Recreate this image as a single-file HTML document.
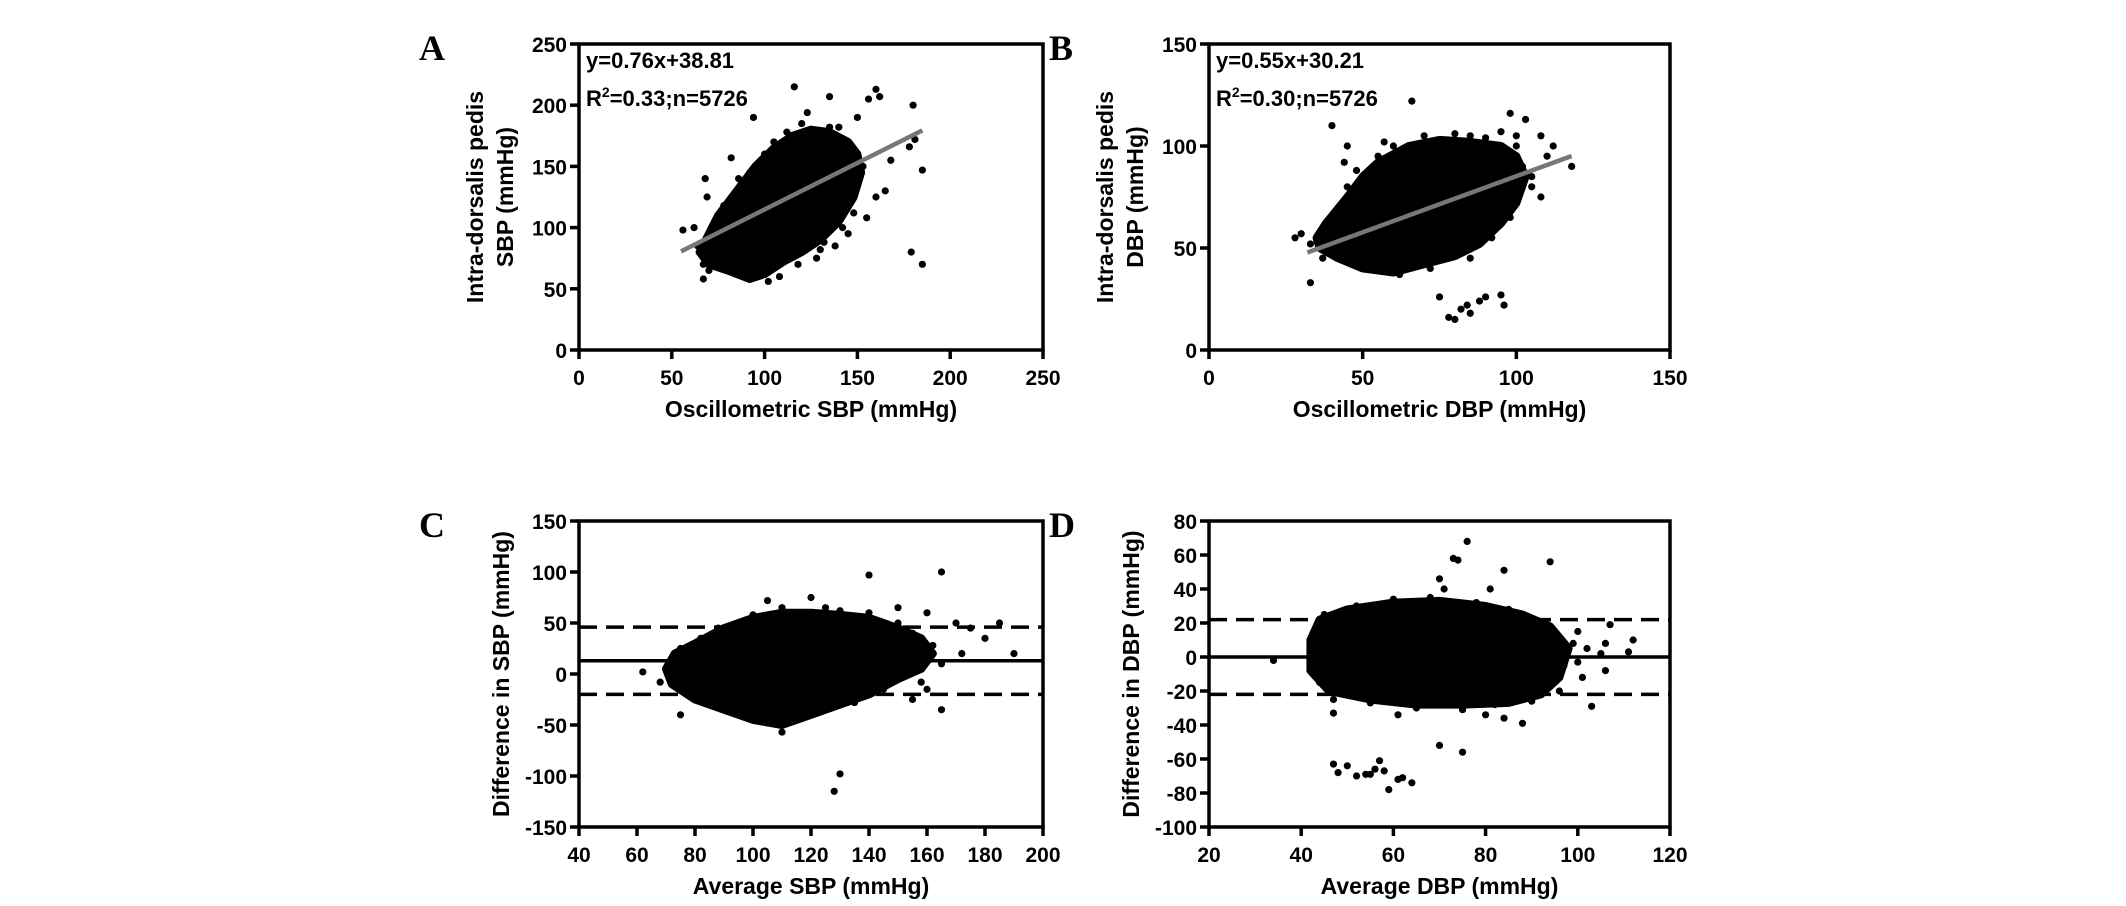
<!DOCTYPE html>
<html><head><meta charset="utf-8"><style>
html,body{margin:0;padding:0;background:#fff;}
svg{display:block;}
text{font-family:"Liberation Sans",Arial,sans-serif;font-weight:bold;fill:#000;}
.pl{font-family:"Liberation Serif","Times New Roman",serif;font-size:36px;font-weight:bold;}
</style></head><body>
<svg id="fig" width="2126" height="906" viewBox="0 0 2126 906" xmlns="http://www.w3.org/2000/svg"></svg>
<script>
// Panel A data
const aXTicks=[0,50,100,150,200,250];
const aYTicks=[0,50,100,150,200,250];
const aCloudX=[65,70,75,85,95,105,115,125,135,145,150,152,148,140,130,120,110,100,92,80,70];
const aCloudY=[80,95,110,130,150,165,175,180,178,170,160,145,125,105,90,80,72,62,58,65,70];
const aPtsX=[56,67,67,68,69,70,82,94,102,116,123,135,156,160,162,168,160,155,180,179,181,185,185,165,145,130,178,72,88,140,150,72,75,78,85,88,92,95,98,105,108,112,118,125,128,135,138,142,145,148,150,153,86,100,120,132,140,62,64];
const aPtsY=[98,58,70,140,125,65,157,190,56,215,194,207,205,213,207,155,125,108,200,80,172,147,70,130,95,82,166,100,63,182,190,100,85,118,75,135,145,68,155,170,60,178,70,176,75,182,85,100,165,112,140,150,140,160,185,88,170,100,85];
const aSlope=0.76, aIntercept=38.81, aLineX=[55,185];
// Panel B data
const bXTicks=[0,50,100,150];
const bYTicks=[0,50,100,150];
const bCloudX=[35,38,45,50,55,65,75,85,95,100,103,100,95,88,80,70,60,50,42,36];
const bCloudY=[55,62,75,85,92,100,103,102,100,95,85,72,62,52,46,42,38,40,45,50];
const bPtsX=[30,33,40,45,66,85,98,103,108,112,118,110,78,80,82,84,85,88,90,95,96,75,100,105,28,33,37,40,45,48,52,55,60,62,70,72,80,85,90,92,98,100,102,105,108,44,57,95];
const bPtsY=[57,33,110,100,122,105,116,113,105,100,90,95,16,15,20,22,18,24,26,27,22,26,105,85,55,52,45,65,80,88,40,95,100,37,105,40,106,45,104,55,65,100,90,80,75,92,102,107];
const bSlope=0.55, bIntercept=30.21, bLineX=[32,118];
// Panel C data
const cXTicks=[40,60,80,100,120,140,160,180,200];
const cYTicks=[-150,-100,-50,0,50,100,150];
const cCloudX=[70,73,80,90,100,110,120,130,140,150,158,162,158,150,140,130,120,110,100,90,80,72];
const cCloudY=[5,20,30,45,55,60,60,58,55,45,35,20,5,-5,-20,-30,-40,-50,-45,-35,-25,-10];
const cPtsX=[62,68,75,105,120,140,165,160,170,175,185,190,180,165,128,130,110,155,150,172,72,75,78,82,85,88,95,100,105,110,115,125,130,135,140,145,150,155,158,162,165,160];
const cPtsY=[2,-8,-40,72,75,97,100,60,50,45,50,20,35,-35,-115,-98,-57,-25,65,20,15,25,-20,35,-30,45,-40,58,-48,65,-45,65,62,-28,60,-15,50,40,-8,28,10,-15];
const cMean=[13], cLimits=[46,-20];
// Panel D data
const dXTicks=[20,40,60,80,100,120];
const dYTicks=[-100,-80,-60,-40,-20,0,20,40,60,80];
const dCloudX=[42,44,50,60,70,80,88,94,98,96,92,85,75,65,55,46,42];
const dCloudY=[10,22,28,32,33,30,25,18,5,-12,-22,-27,-28,-28,-25,-20,-8];
const dPtsX=[34,47,61,76,73,74,94,84,70,71,81,100,102,105,106,107,112,111,106,101,103,88,70,75,47,48,50,52,55,56,57,58,59,61,62,64,54,80,84,43,45,44,47,52,55,60,65,68,75,78,82,85,90,93,96,99,97,100];
const dPtsY=[-2,-33,-34,68,58,57,56,51,46,40,40,15,5,2,8,19,10,3,-8,-12,-29,-39,-52,-56,-63,-68,-64,-70,-69,-66,-61,-67,-78,-72,-71,-74,-69,-34,-36,15,25,-15,-25,30,-27,34,-30,35,-31,32,-28,28,-26,20,-20,8,-5,-3];
const dMean=[0], dLimits=[22,-22];

const NS="http://www.w3.org/2000/svg";
const svg=document.getElementById('fig');
function mk(tag,attrs,parent){const e=document.createElementNS(NS,tag);for(const k in attrs)e.setAttribute(k,attrs[k]);(parent||svg).appendChild(e);return e;}

function panel(o){
  const g=mk('g',{});
  
  
  const sx=v=>o.L+(v-o.xmin)/(o.xmax-o.xmin)*(o.R-o.L);
  const sy=v=>o.B-(v-o.ymin)/(o.ymax-o.ymin)*(o.B-o.T);
  let d='';
  for(let i=0;i<o.cx.length;i++)d+=(i?'L':'M')+sx(o.cx[i])+' '+sy(o.cy[i]);
  const cl=mk('path',{d:d+'Z',fill:'#000',stroke:'#000','stroke-width':8,'stroke-linejoin':'round'},g);
  
  
  for(let i=0;i<o.px.length;i++){
    const c=mk('circle',{cx:sx(o.px[i]),cy:sy(o.py[i]),r:3.6,fill:'#000'},g);
    
    
  }
  if(o.slope!==undefined){
    const ln=mk('line',{x1:sx(o.lx[0]),y1:sy(o.slope*o.lx[0]+o.icpt),x2:sx(o.lx[1]),y2:sy(o.slope*o.lx[1]+o.icpt),stroke:'#777','stroke-width':4.5},g);
    
    
  }
  if(o.mean){
    const m=mk('line',{x1:o.L,x2:o.R,y1:sy(o.mean[0]),y2:sy(o.mean[0]),stroke:'#000','stroke-width':3.5},g);
    
    
    o.lim.forEach(v=>{
      const l=mk('line',{x1:o.L,x2:o.R,y1:sy(v),y2:sy(v),stroke:'#000','stroke-width':3.5,'stroke-dasharray':'18 9'},g);
      
      
    });
  }
  const bx=mk('rect',{x:o.L,y:o.T,width:o.R-o.L,height:o.B-o.T,fill:'none',stroke:'#000','stroke-width':3.5},g);
  
  
  o.xt.forEach(v=>{
    mk('line',{x1:sx(v),x2:sx(v),y1:o.B,y2:o.B+9,stroke:'#000','stroke-width':3.5},g);
    const t=mk('text',{x:sx(v),y:o.B+35,'text-anchor':'middle','font-size':21},g);
    t.textContent=v;
    
    
  });
  o.yt.forEach(v=>{
    mk('line',{x1:o.L-9,x2:o.L,y1:sy(v),y2:sy(v),stroke:'#000','stroke-width':3.5},g);
    const t=mk('text',{x:o.L-12,y:sy(v)+8,'text-anchor':'end','font-size':21},g);
    t.textContent=v;
    
    
  });
  const xt=mk('text',{x:(o.L+o.R)/2,y:o.B+67,'text-anchor':'middle','font-size':23},g);
  xt.textContent=o.xtitle;
  
  
  const cy=(o.T+o.B)/2;
  o.ytitle.forEach((s,i)=>{
    const x=o.L-(o.ytitle.length==2?(i==0?96:66):70);
    const t=mk('text',{x:x,y:cy,'text-anchor':'middle','font-size':23,transform:`rotate(-90 ${x} ${cy})`},g);
    t.textContent=s;
    
    
  });
  const pl=mk('text',{x:o.L-160,y:o.T+16,'class':'pl'},g);
  pl.textContent=o.letter;
  
  
  if(o.eq){
    const e1=mk('text',{x:o.L+7,y:o.T+24,'font-size':22},g);
    e1.textContent=o.eq[0];
    
    
    const e2=mk('text',{x:o.L+7,y:o.T+62,'font-size':22},g);
    e2.innerHTML='R<tspan dy="-9" font-size="14">2</tspan><tspan dy="9">'+o.eq[1]+'</tspan>';
    
    
  }
}
panel({name:'panel-a-scatter',letter:'A',L:579,R:1043,T:44,B:350,xmin:0,xmax:250,ymin:0,ymax:250,xt:aXTicks,yt:aYTicks,cx:aCloudX,cy:aCloudY,px:aPtsX,py:aPtsY,slope:aSlope,icpt:aIntercept,lx:aLineX,xtitle:'Oscillometric SBP (mmHg)',ytitle:['Intra-dorsalis pedis','SBP (mmHg)'],eq:['y=0.76x+38.81','=0.33;n=5726']});
panel({name:'panel-b-scatter',letter:'B',L:1209,R:1670,T:44,B:350,xmin:0,xmax:150,ymin:0,ymax:150,xt:bXTicks,yt:bYTicks,cx:bCloudX,cy:bCloudY,px:bPtsX,py:bPtsY,slope:bSlope,icpt:bIntercept,lx:bLineX,xtitle:'Oscillometric DBP (mmHg)',ytitle:['Intra-dorsalis pedis','DBP (mmHg)'],eq:['y=0.55x+30.21','=0.30;n=5726']});
panel({name:'panel-c-bland-altman',letter:'C',L:579,R:1043,T:521,B:827,xmin:40,xmax:200,ymin:-150,ymax:150,xt:cXTicks,yt:cYTicks,cx:cCloudX,cy:cCloudY,px:cPtsX,py:cPtsY,mean:cMean,lim:cLimits,xtitle:'Average SBP (mmHg)',ytitle:['Difference in SBP (mmHg)']});
panel({name:'panel-d-bland-altman',letter:'D',L:1209,R:1670,T:521,B:827,xmin:20,xmax:120,ymin:-100,ymax:80,xt:dXTicks,yt:dYTicks,cx:dCloudX,cy:dCloudY,px:dPtsX,py:dPtsY,mean:dMean,lim:dLimits,xtitle:'Average DBP (mmHg)',ytitle:['Difference in DBP (mmHg)']});
</script>
</body></html>
